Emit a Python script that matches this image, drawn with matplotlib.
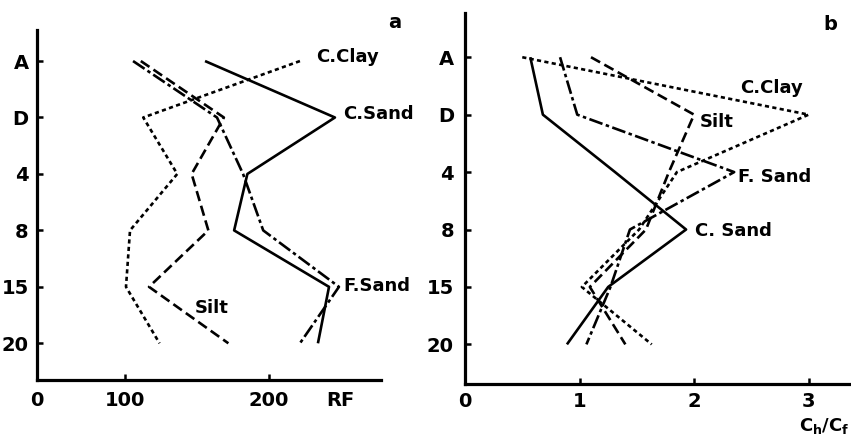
import matplotlib
matplotlib.use("Agg")
import matplotlib.pyplot as plt

plt.rcParams['font.family'] = ['DejaVu Sans']
plt.rcParams['lines.scale_dashes'] = False

# ---- data ----
levels = ["A", "D", "4", "8", "15", "20"]

# panel a : RF values
rf_cclay = [221.5, 112.7, 136.3, 103.5, 100.7, 124.0]
rf_silt = [111.0, 168.7, 146.3, 157.9, 116.7, 171.8]
rf_fsand = [105.6, 163.9, 182.0, 196.0, 248.6, 221.5]
rf_csand = [155.6, 245.8, 185.0, 175.8, 241.7, 234.0]

# panel b : Ch/Cf values
r_cclay = [0.50, 3.00, 1.85, 1.52, 1.02, 1.63]
r_silt = [1.10, 2.00, 1.78, 1.58, 1.09, 1.40]
r_fsand = [0.83, 0.98, 2.35, 1.44, 1.27, 1.06]
r_csand = [0.57, 0.68, 1.31, 1.93, 1.25, 0.89]

rf_ticks = [100, 200]
rf_tick_labels = ["100", "200"]
r_ticks = [0, 1, 2, 3]
r_tick_labels = ["0", "1", "2", "3"]

# ---- styles ----
LW = 1.9
styles = {
    "cclay": dict(color="black", lw=LW, dashes=(3.0, 2.4)),
    "silt": dict(color="black", lw=LW, dashes=(7.5, 3.5)),
    "fsand": dict(color="black", lw=LW, dashes=(10, 2.5, 2.5, 2.5)),
    "csand": dict(color="black", lw=LW, linestyle="-"),
}

fig = plt.figure(figsize=(8.51, 4.37), dpi=100)
W, H = 851, 437


def add_ax(left, top, right, bottom):
    return fig.add_axes([left / W, 1 - bottom / H, (right - left) / W, (bottom - top) / H])


axa = add_ax(37, 30, 381, 380)
axb = add_ax(465, 13, 851, 384)

ypos = list(range(len(levels)))
FS = 14

for ax in (axa, axb):
    for s in ("top", "right"):
        ax.spines[s].set_visible(False)
    for s in ("left", "bottom"):
        ax.spines[s].set_linewidth(2.3)
    ax.set_yticks(ypos)
    ax.set_yticklabels(levels, fontsize=FS, fontweight="bold")
    ax.tick_params(axis="both", direction="in", length=4, width=1.8)
    ax.set_facecolor("none")

# panel a
axa.set_ylim(5.65, -0.55)
x0a = 38.9
rf_unit_pos = 249.3
axa.set_xlim(x0a, 277.8)
for vals, key in ((rf_cclay, "cclay"), (rf_silt, "silt"), (rf_fsand, "fsand"), (rf_csand, "csand")):
    axa.plot(vals, ypos, solid_capstyle="butt", dash_capstyle="butt", **styles[key])
axa.set_xticks([x0a] + rf_ticks + [rf_unit_pos])
axa.set_xticklabels(["0"] + rf_tick_labels + ["RF"], fontsize=FS, fontweight="bold")
axa.tick_params(axis="y", pad=6)
axa.tick_params(axis="x", pad=8)
ticks_a = axa.xaxis.get_major_ticks()
ticks_a[0].tick1line.set_visible(False)
ticks_a[-1].tick1line.set_visible(False)

lab_kw = dict(fontsize=13, fontweight="bold", va="center", ha="left")
axa.text(232.6, -0.07, "C.Clay", **lab_kw)
axa.text(251.4, 0.94, "C.Sand", **lab_kw)
axa.text(251.4, 3.99, "F.Sand", **lab_kw)
axa.text(148.6, 4.38, "Silt", **lab_kw)
fig.text(395 / W, 1 - 22 / H, "a", fontsize=FS, fontweight="bold", ha="center", va="center")

# panel b
axb.set_ylim(5.69, -0.77)
axb.set_xlim(0, 3.37)
for vals, key in ((r_cclay, "cclay"), (r_silt, "silt"), (r_fsand, "fsand"), (r_csand, "csand")):
    axb.plot(vals, ypos, solid_capstyle="butt", dash_capstyle="butt", **styles[key])
axb.set_xticks(r_ticks)
axb.set_xticklabels(r_tick_labels, fontsize=FS, fontweight="bold")
axb.tick_params(axis="y", pad=8)
axb.tick_params(axis="x", pad=6)
axb.xaxis.get_major_ticks()[0].tick1line.set_visible(False)

axb.text(2.40, 0.53, "C.Clay", **lab_kw)
axb.text(2.05, 1.13, "Silt", **lab_kw)
axb.text(2.38, 2.09, "F. Sand", **lab_kw)
axb.text(2.01, 3.02, "C. Sand", **lab_kw)
fig.text(830 / W, 1 - 25 / H, "b", fontsize=FS, fontweight="bold", ha="center", va="center")
fig.text(849 / W, 1 - 426 / H, r"C$_\mathbf{h}$/C$_\mathbf{f}$", fontsize=13, fontweight="bold",
         ha="right", va="center")

fig.savefig("out.png", dpi=100)
